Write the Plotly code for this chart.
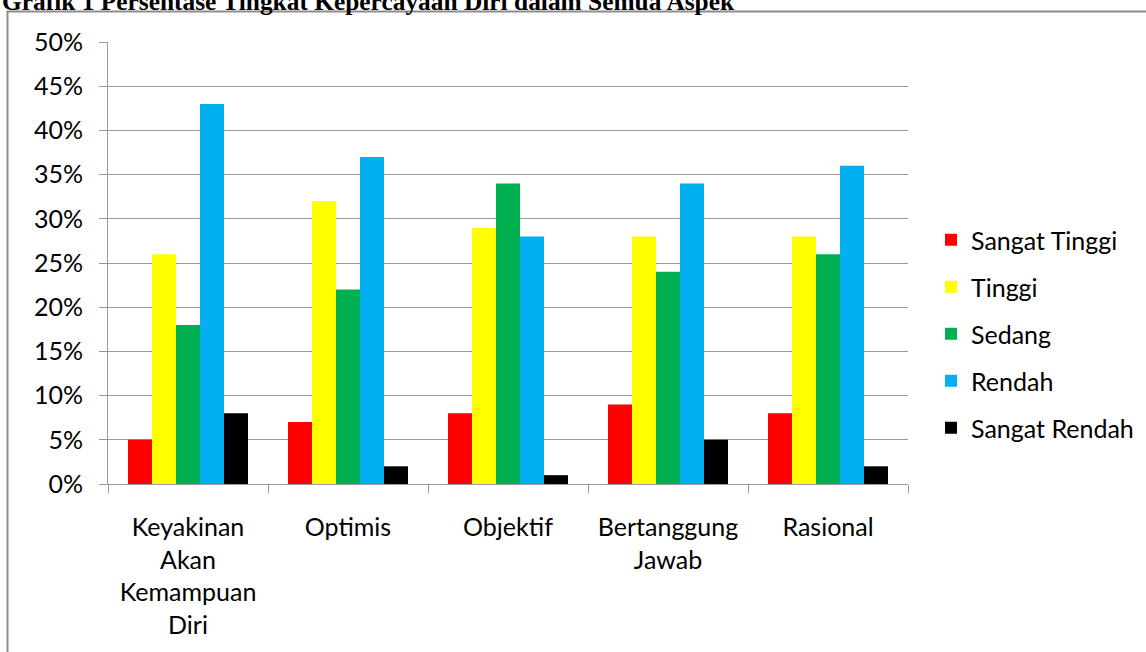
import plotly.graph_objects as go

categories = ["Keyakinan<br>Akan<br>Kemampuan<br>Diri", "Optimis", "Objektif", "Bertanggung<br>Jawab", "Rasional"]
sangat_tinggi = [5, 7, 8, 9, 8]
tinggi = [26, 32, 29, 28, 28]
sedang = [18, 22, 34, 24, 26]
rendah = [43, 37, 28, 34, 36]
sangat_rendah = [8, 2, 1, 5, 2]

series = [
    ("Sangat Tinggi", sangat_tinggi, "#FF0000"),
    ("Tinggi", tinggi, "#FFFF00"),
    ("Sedang", sedang, "#00B050"),
    ("Rendah", rendah, "#00B0F0"),
    ("Sangat Rendah", sangat_rendah, "#000000"),
]

FONT = "Lato"
fig = go.Figure()
for i, (name, vals, col) in enumerate(series):
    fig.add_trace(go.Bar(x=categories, y=vals, name=name, marker=dict(color=col, line=dict(width=0)),
                         legendgroup=f"g{i}"))

L, R, T, B = 108, 238, 42, 168
W, H = 1146, 652
pw, ph = W - L - R, H - T - B

fig.update_layout(
    width=W, height=H,
    margin=dict(l=L, r=R, t=T, b=B, autoexpand=False),
    paper_bgcolor="white", plot_bgcolor="white",
    barmode="group", bargap=0.25, bargroupgap=0,
    font=dict(family=FONT, size=25, color="black"),
    legend=dict(x=(931 - L) / pw, xanchor="left", y=(484 - 334) / ph, yanchor="middle",
                font=dict(family=FONT, size=25, color="black"), tracegroupgap=11.5,
                bgcolor="rgba(0,0,0,0)"),
    xaxis=dict(showgrid=False, showline=True, linecolor="#999999", linewidth=1,
               ticks="outside", ticklen=8, tickcolor="#999999", tickson="boundaries",
               tickfont=dict(family=FONT, size=25, color="black"), ticklabelstandoff=21,
               automargin=False),
    yaxis=dict(range=[0, 50], dtick=5, ticksuffix="%", showgrid=True, gridcolor="#999999",
               gridwidth=1, showline=True, linecolor="#999999", linewidth=1,
               ticks="outside", ticklen=8, tickcolor="#999999", zeroline=False,
               tickfont=dict(family=FONT, size=25, color="black"), ticklabelstandoff=11,
               automargin=False),
    shapes=[dict(type="rect", xref="paper", yref="paper",
                 x0=(7.5 - L) / pw, x1=2.0, y0=-1.0, y1=1 + (T - 11.5) / ph,
                 line=dict(color="#8c8c8c", width=2), fillcolor="rgba(0,0,0,0)", layer="below")],
    annotations=[dict(text="<b>Grafik 1 Persentase Tingkat Kepercayaan Diri dalam Semua Aspek</b>",
                      xref="paper", yref="paper", x=(0 - L) / pw, xanchor="left",
                      y=1 + (T - 17) / ph, yanchor="bottom", showarrow=False,
                      font=dict(family="Liberation Serif", size=25.4, color="black"))],
)

fig.write_html("out.html")
